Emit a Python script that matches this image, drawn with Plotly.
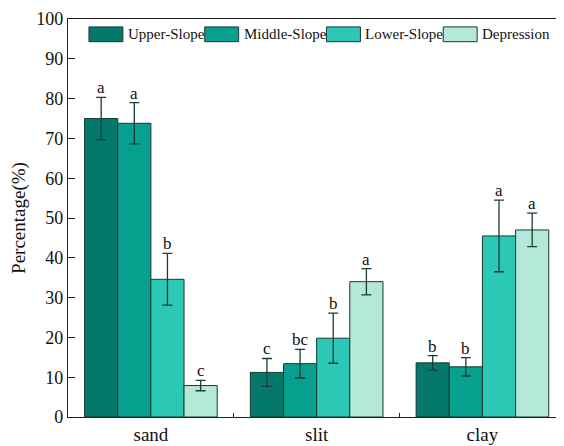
import plotly.graph_objects as go

categories = ["sand", "slit", "clay"]
series_names = ["Upper-Slope", "Middle-Slope", "Lower-Slope", "Depression"]
upper_vals = [75.0, 11.2, 13.6]
middle_vals = [73.8, 13.4, 12.6]
lower_vals = [34.6, 19.8, 45.5]
depr_vals = [7.9, 34.0, 47.0]
upper_err = [5.3, 3.5, 1.8]
middle_err = [5.2, 3.6, 2.3]
lower_err = [6.5, 6.3, 9.0]
depr_err = [1.3, 3.3, 4.2]
upper_sig = ["a", "c", "b"]
middle_sig = ["a", "bc", "b"]
lower_sig = ["b", "b", "a"]
depr_sig = ["c", "a", "a"]
y_ticks = [0, 10, 20, 30, 40, 50, 60, 70, 80, 90, 100]

colors = ["#03786B", "#07A08F", "#2BC8B6", "#B4E8D8"]
vals = [upper_vals, middle_vals, lower_vals, depr_vals]
errs = [upper_err, middle_err, lower_err, depr_err]
sigs = [upper_sig, middle_sig, lower_sig, depr_sig]

FONT = "Liberation Serif, Times New Roman, serif"

fig = go.Figure()
for name, v, e, c in zip(series_names, vals, errs, colors):
    fig.add_trace(go.Bar(
        x=categories, y=v, name=name,
        marker=dict(color=c, line=dict(color="#1a3833", width=1)),
        error_y=dict(type="data", array=e, visible=True, color="#1f3a36",
                     thickness=1.3, width=5),
        showlegend=False,
    ))

offsets = [-0.3, -0.1, 0.1, 0.3]
for si, (v, e, s) in enumerate(zip(vals, errs, sigs)):
    for ci in range(len(categories)):
        fig.add_annotation(
            x=ci + offsets[si], y=v[ci] + e[ci], xref="x", yref="y",
            text=s[ci], showarrow=False, yanchor="bottom", yshift=-2,
            font=dict(family=FONT, size=17, color="#111"),
        )

# page body has an 8px default margin: work in reference pixels, shift by 8
OFF = 8
plot_l, plot_r = 68, 563
plot_t, plot_b = 17, 420
pw = plot_r - plot_l
ph = plot_b - plot_t
W, H = 564 - OFF, 446 - OFF

legend_x = [89, 205, 327, 444]
for name, c, lx in zip(series_names, colors, legend_x):
    x0 = (lx - plot_l) / pw
    x1 = (lx + 34 - plot_l) / pw
    y0 = (plot_b - 40) / ph
    y1 = (plot_b - 25) / ph
    fig.add_shape(type="rect", xref="paper", yref="paper", x0=x0, x1=x1, y0=y0, y1=y1,
                  fillcolor=c, line=dict(color="#1a3833", width=1))
    fig.add_annotation(xref="paper", yref="paper", x=x1 + 3 / pw, y=(y0 + y1) / 2,
                       text=name, showarrow=False, xanchor="left", yanchor="middle",
                       font=dict(family=FONT, size=15, color="#111"))

fig.update_layout(
    width=W, height=H,
    margin=dict(l=plot_l - OFF, r=W - (plot_r - OFF), t=plot_t - OFF, b=H - (plot_b - OFF), pad=0),
    paper_bgcolor="white", plot_bgcolor="white",
    barmode="group", bargap=0.2, bargroupgap=0,
    font=dict(family=FONT, color="#111"),
)
fig.update_xaxes(
    range=[-0.5, 2.48], showline=True, linecolor="#222", linewidth=1.3, mirror=True,
    ticks="inside", tickson="boundaries", ticklen=4, tickcolor="#222",
    tickfont=dict(family=FONT, size=19, color="#111"), showgrid=False,
    ticklabeloverflow="allow",
)
fig.update_yaxes(
    range=[0, 100], tickvals=y_ticks, showline=True, linecolor="#222", linewidth=1.3,
    mirror=True, ticks="inside", ticklen=7, tickcolor="#222",
    tickfont=dict(family=FONT, size=18, color="#111"), showgrid=False, zeroline=False,
    ticklabeloverflow="allow",
    title=dict(text="Percentage(%)", font=dict(family=FONT, size=19, color="#111"), standoff=14),
)

fig.write_html("out.html")
